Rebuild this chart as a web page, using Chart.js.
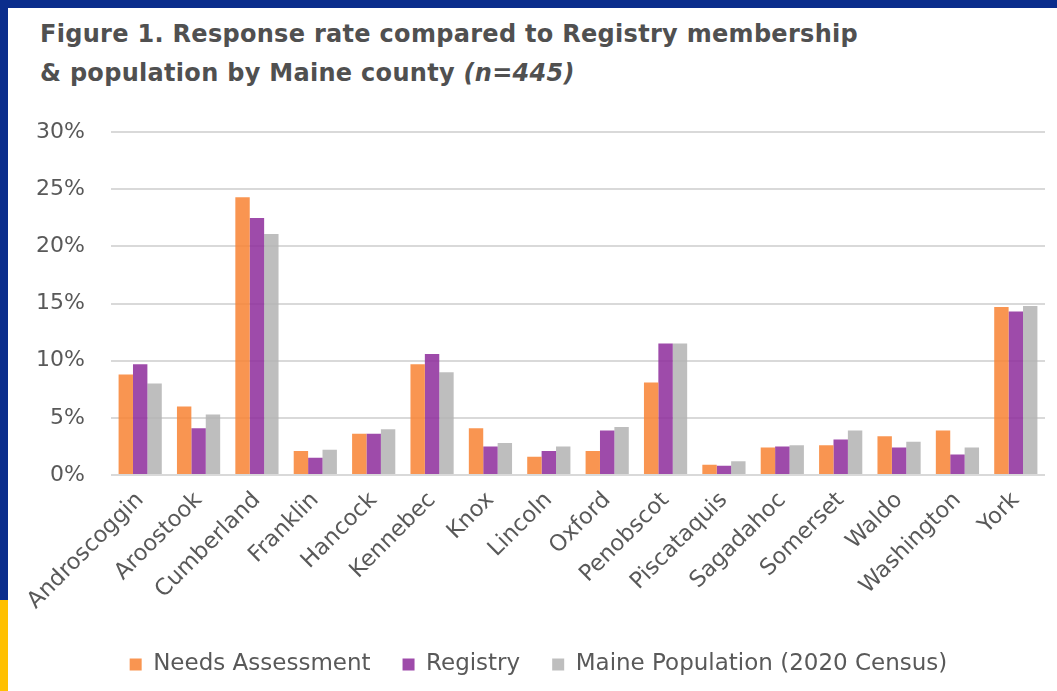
<!DOCTYPE html>
<html>
<head>
<meta charset="utf-8">
<script src="https://cdn.jsdelivr.net/npm/chart.js@4/dist/chart.umd.min.js"></script>
<style>
  html, body { margin: 0; padding: 0; }
  body { width: 1057px; height: 691px; background: #0a2d8c; position: relative; overflow: hidden; }
  #card { position: absolute; left: 8px; top: 8px; width: 1049px; height: 683px; background: #fff; }
  #stripe { position: absolute; left: 0; top: 600px; width: 8px; height: 91px; background: #ffc000; }
  #title {
    position: absolute; left: 40px; top: 15px;
    font-family: "DejaVu Sans", sans-serif; font-weight: bold; font-size: 24px;
    line-height: 39px; color: #505050; letter-spacing: 0.3px;
  }
  #wrap { position: absolute; left: 8px; top: 93px; width: 1049px; height: 598px; }
</style>
</head>
<body>
<div id="card"></div>
<div id="stripe"></div>
<div id="title">Figure 1. Response rate compared to Registry membership<br>&amp; population by Maine county <i>(n=445)</i></div>
<div id="wrap"><canvas id="myChart"></canvas></div>
<script>
// counties along the x axis
const counties = ['Androscoggin', 'Aroostook', 'Cumberland', 'Franklin', 'Hancock', 'Kennebec', 'Knox',
    'Lincoln', 'Oxford', 'Penobscot', 'Piscataquis', 'Sagadahoc', 'Somerset', 'Waldo', 'Washington', 'York'];

// percentages per county
const needsAssessment = [8.8, 6.0, 24.3, 2.1, 3.6, 9.7, 4.1, 1.6, 2.1, 8.1, 0.9, 2.4, 2.6, 3.4, 3.9, 14.7];
const registry = [9.7, 4.1, 22.5, 1.5, 3.6, 10.6, 2.5, 2.1, 3.9, 11.5, 0.8, 2.5, 3.1, 2.4, 1.8, 14.3];
const mainePopulation = [8.0, 5.3, 21.1, 2.2, 4.0, 9.0, 2.8, 2.5, 4.2, 11.5, 1.2, 2.6, 3.9, 2.9, 2.4, 14.8];

const yTicks = [0, 5, 10, 15, 20, 25, 30];

const fontFamily = '"DejaVu Sans", sans-serif';

const data = {
    labels: counties,
    datasets: [
        {
            label: 'Needs Assessment',
            data: needsAssessment,
            backgroundColor: 'rgba(248, 130, 51, 0.85)'
        },
        {
            label: 'Registry',
            data: registry,
            backgroundColor: 'rgba(141, 44, 155, 0.85)'
        },
        {
            label: 'Maine Population (2020 Census)',
            data: mainePopulation,
            backgroundColor: 'rgba(179, 179, 179, 0.85)'
        }
    ]
};

const config = {
    type: 'bar',
    data: data,
    options: {
        responsive: true,
        maintainAspectRatio: false,
        animation: false,
        categoryPercentage: 0.74,
        barPercentage: 1.0,
        layout: {
            padding: { left: 24, right: 12, top: 4, bottom: 5 }
        },
        plugins: {
            legend: {
                position: 'bottom',
                labels: {
                    font: { family: fontFamily, size: 23 },
                    color: '#595959',
                    boxWidth: 12,
                    boxHeight: 12,
                    padding: 32
                }
            },
            tooltip: { enabled: false }
        },
        scales: {
            x: {
                grid: { display: false },
                border: { display: false },
                ticks: {
                    font: { family: fontFamily, size: 22.5 },
                    color: '#595959',
                    minRotation: 45,
                    maxRotation: 45,
                    padding: 4
                },
                // fixed height keeps the plot bottom at 0% line above the legend
                afterFit: (scale) => { scale.height = 146; }
            },
            y: {
                min: 0,
                max: 30,
                border: { display: false },
                grid: { color: '#d9d9d9', lineWidth: 2, drawTicks: false },
                ticks: {
                    font: { family: fontFamily, size: 22 },
                    color: '#595959',
                    padding: 26,
                    stepSize: 5,
                    callback: (value) => yTicks.includes(value) ? value + '%' : ''
                },
                afterFit: (scale) => { scale.width = 79; }
            }
        }
    }
};

const myChart = new Chart(document.getElementById('myChart'), config);
</script>
</body>
</html>
